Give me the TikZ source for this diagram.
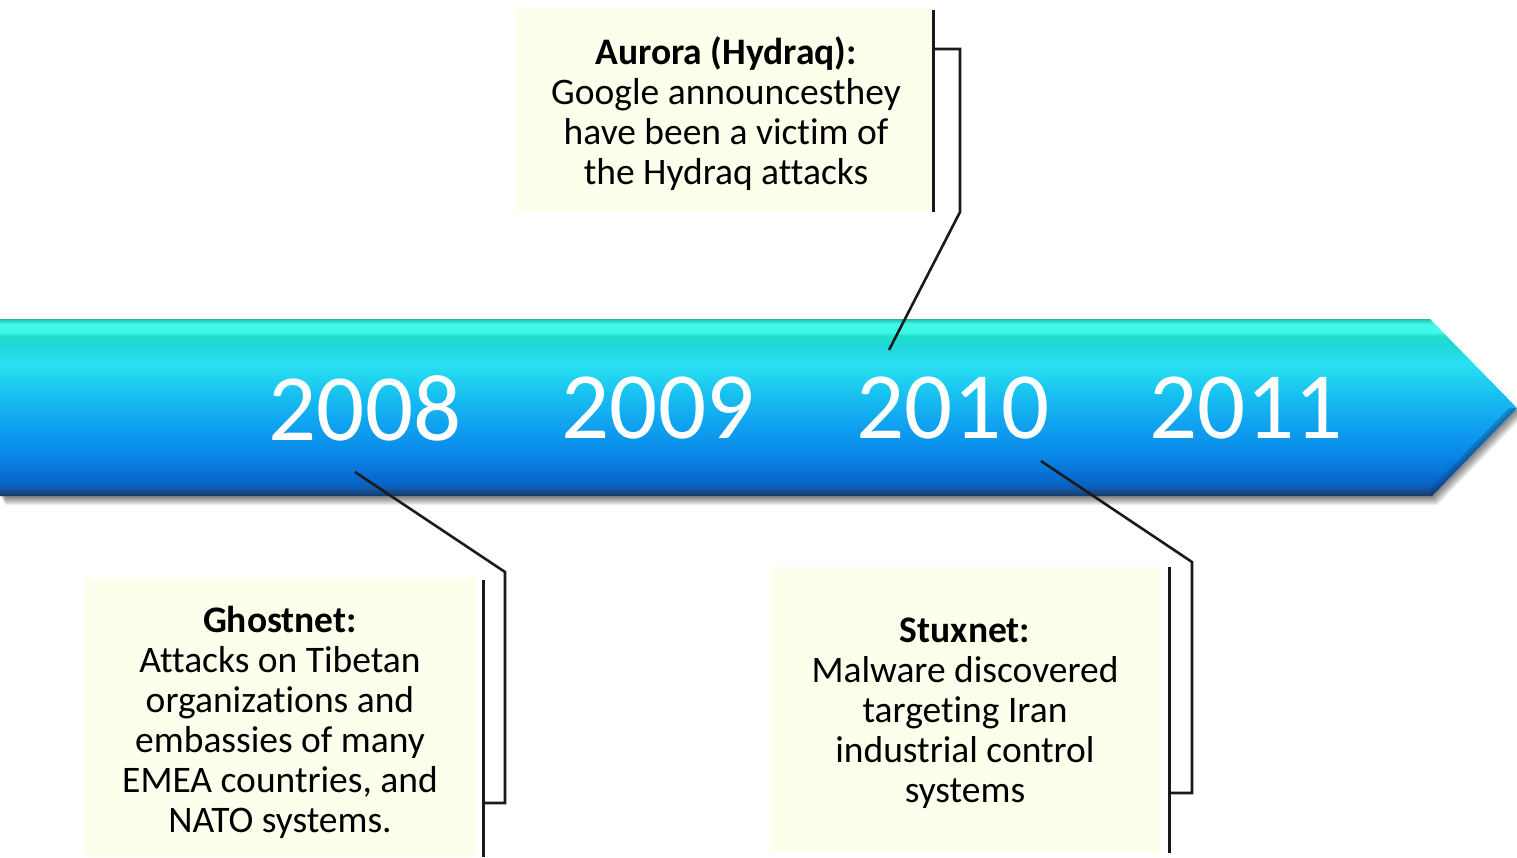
\documentclass[tikz,border=0pt]{standalone}
\usepackage{fontspec}
\setmainfont[Ligatures={NoCommon}]{Carlito}

% timeline bar colours, bottom to top
\definecolor{barA}{HTML}{0E3A70}
\definecolor{barB}{HTML}{1A4C88}
\definecolor{barC}{HTML}{0860C0}
\definecolor{barD}{HTML}{0870D4}
\definecolor{barE}{HTML}{0888E8}
\definecolor{barF}{HTML}{10A2F0}
\definecolor{barG}{HTML}{18C0F0}
\definecolor{barH}{HTML}{28E0F0}
\definecolor{barI}{HTML}{20D8D8}
\definecolor{barJ}{HTML}{1EE0C8}
\definecolor{barK}{HTML}{40F8E8}
\definecolor{barL}{HTML}{28C8B8}
\definecolor{barM}{HTML}{30B0A0}
\definecolor{calloutfill}{HTML}{FEFEEC}
\definecolor{leadercol}{HTML}{1A1A1A}

\pgfdeclareverticalshading{barshade}{100bp}{%
  color(0bp)=(barA); color(25bp)=(barA); color(26.4bp)=(barB);
  color(27.8bp)=(barC); color(31.2bp)=(barD); color(36.8bp)=(barE);
  color(45.2bp)=(barF); color(53.7bp)=(barG); color(62.1bp)=(barH);
  color(67.7bp)=(barI); color(70.2bp)=(barJ); color(71.3bp)=(barK);
  color(73.6bp)=(barK); color(74.7bp)=(barL); color(75bp)=(barM);
  color(100bp)=(barM)}

\begin{document}
\begin{tikzpicture}[x=1pt,y=-1pt,
  calloutbox/.style={fill=calloutfill, inner sep=0pt},
  callouttext/.style={inner sep=0pt, align=center,
    font=\fontsize{37.5}{40}\selectfont},
  year/.style={text=white, inner sep=0pt, font=\fontsize{95}{95}\selectfont},
  leader/.style={draw=leadercol, line width=2.6pt, line join=miter},
  border/.style={draw=leadercol, line width=2.6pt}]

\useasboundingbox (0,0) rectangle (1517,857);
\fill[white] (0,0) rectangle (1517,857);

% soft shadow under the timeline arrow
\foreach \i in {1,...,9}
  \fill[black, opacity=0.065, shift={(0.6*\i,\i)}]
    (0,319) -- (1430,319) -- (1517,408) -- (1432,496) -- (0,496) -- cycle;

% timeline arrow
\path[shading=barshade]
  (0,319) -- (1430,319) -- (1517,408) -- (1432,496) -- (0,496) -- cycle;
% darker bevel along the lower edge of the arrow head
\fill[barA, opacity=0.3]
  (1432,496) -- (1517,408) -- (1509,408) -- (1428,491) -- cycle;
\fill[barA, opacity=0.25]
  (1432,496) -- (1517,408) -- (1513,408) -- (1430,494) -- cycle;

% years
\node[year] (y2008) at (365,408) {2008};
\node[year] (y2009) at (658,408) {2009};
\node[year] (y2010) at (953,408) {2010};
\node[year] (y2011) at (1246,408) {2011};

% anchor points of the leaders on the timeline
\coordinate (p2010) at (889,350);
\coordinate (p2008) at (355,472);
\coordinate (p2010b) at (1041,461);

% callout boxes
\node[calloutbox, minimum width=418pt, minimum height=204pt] (aurora) at (724,110) {};
\node[calloutbox, minimum width=390pt, minimum height=279pt] (ghostnet) at (280,717.5) {};
\node[calloutbox, minimum width=390pt, minimum height=286pt] (stuxnet) at (965,710) {};

% callout texts
\node[callouttext] (auroratext) at (726,114)
  {\textbf{Aurora (Hydraq):}\\Google announcesthey\\have been a victim of\\the Hydraq attacks};
\node[callouttext] (ghostnettext) at (280,722.5)
  {\textbf{Ghostnet:}\\Attacks on Tibetan\\organizations and\\embassies of many\\EMEA countries, and\\NATO systems.};
\node[callouttext] (stuxnettext) at (965,713)
  {\textbf{Stuxnet:}\\Malware discovered\\targeting Iran\\industrial control\\systems};

% callout border bars
\draw[border] (aurora.north east) ++(0,2) coordinate (abt) -- (aurora.south east) coordinate (abb);
\draw[border] (ghostnet.north east) ++(8,2) coordinate (gbt) -- ++(0,277) coordinate (gbb);
\draw[border] (stuxnet.north east) ++(9,0) coordinate (sbt) -- ++(0,286) coordinate (sbb);

% leaders
\draw[leader] (p2010) -- (960,212) -- (960,49) -- (abt |- 0,49);
\draw[leader] (p2008) -- (505,572) -- (505,803) -- (gbt |- 0,803);
\draw[leader] (p2010b) -- (1192,562) -- (1192,793) -- (sbt |- 0,793);
\end{tikzpicture}
\end{document}
